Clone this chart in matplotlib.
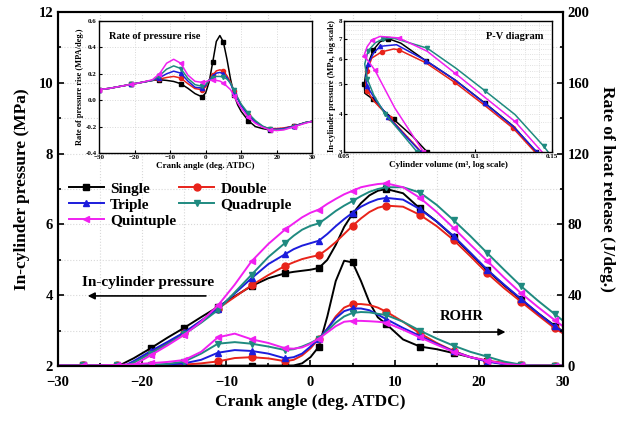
import numpy as np
import matplotlib
matplotlib.use('Agg')
import matplotlib.pyplot as plt
from matplotlib.ticker import MultipleLocator, FixedLocator, FixedFormatter, NullFormatter

plt.rcParams['font.family'] = ['Liberation Serif', 'DejaVu Serif']
plt.rcParams['font.weight'] = 'bold'
plt.rcParams['axes.labelweight'] = 'bold'

# ---------------- data ----------------
series_names = ['Single', 'Double', 'Triple', 'Quadruple', 'Quintuple']
colors = ['#000000', '#e8231a', '#1c1cdc', '#1f8a80', '#f020f0']
markers = ['s', 'o', '^', 'v', '<']

crank = [-30, -29, -27, -25, -23, -21, -19, -17, -15, -13, -11, -9, -7, -5, -3, -2, -1, 0,
         1, 2, 3, 4, 5, 6, 7, 8, 9, 11, 13, 15, 17, 19, 21, 23, 25, 27, 29, 30]
marker_angles = [-27, -23, -19, -15, -11, -7, -3, 1, 5, 9, 13, 17, 21, 25, 29]

p_single = [1.45, 1.5, 1.62, 1.78, 1.98, 2.22, 2.5, 2.8, 3.08, 3.38, 3.67, 3.97, 4.26, 4.48, 4.62, 4.66, 4.69, 4.72,
            4.77, 5.0, 5.42, 5.93, 6.3, 6.6, 6.82, 6.95, 7.0, 6.88, 6.45, 6.08, 5.65, 5.18, 4.7, 4.28, 3.88, 3.5, 3.14, 2.98]
p_double = [1.35, 1.4, 1.52, 1.68, 1.87, 2.1, 2.38, 2.65, 2.93, 3.27, 3.62, 3.95, 4.28, 4.57, 4.83, 4.93, 5.02, 5.08,
            5.13, 5.3, 5.5, 5.73, 5.96, 6.17, 6.35, 6.47, 6.53, 6.5, 6.27, 5.95, 5.56, 5.1, 4.62, 4.2, 3.82, 3.44, 3.07, 2.92]
p_triple = [1.38, 1.43, 1.55, 1.7, 1.9, 2.14, 2.42, 2.68, 2.95, 3.28, 3.62, 4.05, 4.48, 4.88, 5.16, 5.3, 5.4, 5.47,
            5.54, 5.73, 5.95, 6.15, 6.33, 6.5, 6.62, 6.71, 6.75, 6.7, 6.43, 6.08, 5.67, 5.2, 4.72, 4.3, 3.9, 3.5, 3.12, 2.96]
p_quadruple = [1.36, 1.41, 1.52, 1.68, 1.88, 2.1, 2.35, 2.62, 2.9, 3.22, 3.58, 4.08, 4.58, 5.08, 5.48, 5.68, 5.85, 5.96,
               6.03, 6.2, 6.38, 6.53, 6.66, 6.8, 6.92, 7.0, 7.05, 7.05, 6.9, 6.55, 6.12, 5.67, 5.19, 4.72, 4.26, 3.85, 3.47, 3.28]
p_quintuple = [1.33, 1.38, 1.48, 1.62, 1.8, 2.03, 2.3, 2.58, 2.88, 3.25, 3.71, 4.3, 4.96, 5.45, 5.86, 6.03, 6.2, 6.33,
               6.42, 6.58, 6.72, 6.85, 6.95, 7.05, 7.1, 7.14, 7.16, 7.05, 6.75, 6.35, 5.9, 5.43, 4.97, 4.5, 4.06, 3.67, 3.3, 3.12]

r_single = [0.3, 0.3, 0.3, 0.2, 0.2, 0.2, 0.2, 0.2, 0.2, 0.2, 0.2, 0.2, 0.2, 0.2, 0.2, 0.3, 1.5, 5.0,
            11.0, 28.0, 48.0, 59.5, 58.5, 48.0, 36.0, 27.5, 23.7, 15.0, 11.0, 9.5, 7.3, 5.0, 2.8, 1.2, 0.3, 0.2, 0.2, 0.2]
r_double = [0.3, 0.3, 0.3, 0.3, 0.3, 0.3, 0.4, 0.5, 0.8, 1.5, 2.6, 4.5, 5.0, 4.3, 2.7, 3.5, 6.0, 10.0,
            15.5, 21.0, 28.0, 33.0, 35.0, 35.0, 34.5, 33.0, 30.7, 25.0, 18.5, 13.0, 8.5, 5.0, 3.0, 1.8, 0.5, 0.3, 0.2, 0.2]
r_triple = [0.3, 0.3, 0.3, 0.3, 0.3, 0.3, 0.5, 0.8, 1.5, 3.5, 7.5, 9.0, 8.5, 7.0, 4.3, 5.0, 7.0, 11.0,
            15.5, 21.0, 27.0, 31.0, 32.5, 32.5, 31.5, 29.0, 26.5, 21.5, 17.0, 12.5, 8.3, 5.0, 2.5, 1.0, 0.3, 0.2, 0.2, 0.2]
r_quadruple = [0.3, 0.3, 0.3, 0.3, 0.3, 0.3, 0.6, 1.2, 2.5, 7.0, 12.6, 13.5, 12.6, 11.0, 9.0, 9.5, 11.0, 13.0,
               15.5, 20.0, 24.5, 28.0, 30.0, 30.5, 30.3, 29.5, 28.8, 25.0, 20.0, 15.5, 11.5, 8.0, 5.3, 2.5, 0.8, 0.3, 0.2, 0.2]
r_quintuple = [0.3, 0.3, 0.3, 0.4, 0.6, 1.0, 1.6, 2.3, 3.4, 8.0, 16.2, 18.3, 15.1, 13.0, 10.0, 9.8, 10.5, 12.5,
               15.5, 19.0, 22.5, 25.0, 25.5, 25.5, 25.3, 25.0, 24.5, 20.5, 16.2, 12.0, 8.0, 5.0, 3.0, 1.3, 0.4, 0.2, 0.2, 0.2]

# rate of pressure rise inset
rpr_angle = [-30, -27, -24, -21, -18, -15, -13, -11, -9, -7, -5, -3, -1, 0, 1, 2, 3, 4, 5, 6, 7, 8, 9, 10,
             12, 14, 16, 18, 20, 22, 25, 28, 30]
rpr_single = [0.08, 0.09, 0.105, 0.12, 0.135, 0.15, 0.155, 0.15, 0.142, 0.125, 0.09, 0.05, 0.025, 0.055, 0.14, 0.29,
              0.445, 0.49, 0.44, 0.31, 0.16, 0.04, -0.035, -0.085, -0.155, -0.2, -0.215, -0.225, -0.225, -0.215,
              -0.195, -0.17, -0.16]
rpr_double = [0.08, 0.09, 0.105, 0.12, 0.135, 0.15, 0.16, 0.172, 0.18, 0.168, 0.125, 0.088, 0.08, 0.1, 0.155, 0.19,
              0.222, 0.23, 0.222, 0.185, 0.135, 0.07, 0.015, -0.035, -0.11, -0.16, -0.2, -0.215, -0.215, -0.21,
              -0.195, -0.17, -0.16]
rpr_triple = [0.08, 0.09, 0.105, 0.12, 0.135, 0.15, 0.17, 0.2, 0.22, 0.205, 0.145, 0.098, 0.092, 0.11, 0.155, 0.18,
              0.205, 0.21, 0.2, 0.17, 0.125, 0.065, 0.01, -0.04, -0.115, -0.165, -0.2, -0.22, -0.22, -0.215,
              -0.195, -0.17, -0.16]
rpr_quadruple = [0.08, 0.09, 0.105, 0.12, 0.135, 0.15, 0.185, 0.235, 0.26, 0.24, 0.165, 0.118, 0.105, 0.12, 0.15,
                 0.168, 0.18, 0.18, 0.175, 0.16, 0.13, 0.075, 0.02, -0.03, -0.1, -0.155, -0.195, -0.22, -0.225,
                 -0.22, -0.2, -0.17, -0.16]
rpr_quintuple = [0.08, 0.09, 0.105, 0.12, 0.135, 0.155, 0.2, 0.28, 0.31, 0.28, 0.19, 0.143, 0.135, 0.14, 0.15, 0.152,
                 0.15, 0.145, 0.13, 0.105, 0.08, 0.03, -0.02, -0.06, -0.13, -0.175, -0.205, -0.225, -0.23, -0.225,
                 -0.2, -0.175, -0.16]

# P-V inset (volume m^3, pressure MPa)
pv_v_single = [0.0776, 0.0719, 0.065, 0.0615, 0.0582, 0.0558, 0.0557, 0.0563, 0.0584, 0.0605, 0.0632, 0.0675,
               0.0771, 0.0898, 0.1052, 0.1223, 0.138]
pv_p_single = [3.0, 3.37, 3.83, 4.1, 4.46, 4.66, 5.0, 5.62, 6.45, 6.85, 7.01, 6.78, 5.94, 5.15, 4.33, 3.64, 3.0]
pv_v_double = [0.0753, 0.07, 0.0637, 0.0585, 0.0565, 0.0561, 0.0565, 0.0579, 0.061, 0.065, 0.0668, 0.0771, 0.0898,
               0.1052, 0.1223, 0.1371]
pv_p_double = [3.0, 3.35, 3.87, 4.4, 4.75, 4.96, 5.5, 6.06, 6.35, 6.49, 6.45, 5.85, 5.05, 4.25, 3.58, 3.0]
pv_v_triple = [0.075, 0.069, 0.0632, 0.059, 0.0565, 0.0561, 0.0568, 0.0585, 0.0605, 0.066, 0.0771, 0.0898, 0.1052,
               0.1223, 0.1385]
pv_p_triple = [3.0, 3.4, 3.9, 4.45, 4.9, 5.25, 5.8, 6.3, 6.62, 6.7, 5.95, 5.15, 4.32, 3.63, 3.0]
pv_v_quadruple = [0.0736, 0.0672, 0.062, 0.0585, 0.0565, 0.0558, 0.0568, 0.059, 0.0615, 0.065, 0.0776, 0.0903,
                  0.1052, 0.1234, 0.1437, 0.147]
pv_p_quadruple = [3.0, 3.5, 4.0, 4.6, 5.2, 5.8, 6.4, 6.8, 7.0, 7.04, 6.53, 5.62, 4.75, 3.97, 3.13, 3.0]
pv_v_quintuple = [0.0761, 0.0654, 0.0589, 0.0565, 0.0555, 0.0565, 0.058, 0.0605, 0.0668, 0.0776, 0.0898, 0.1052,
                  0.1234, 0.1424]
pv_p_quintuple = [3.0, 4.17, 5.53, 6.0, 6.14, 6.6, 6.95, 7.13, 7.05, 6.38, 5.42, 4.52, 3.77, 3.0]

pressures = [p_single, p_double, p_triple, p_quadruple, p_quintuple]
rohrs = [r_single, r_double, r_triple, r_quadruple, r_quintuple]
rprs = [rpr_single, rpr_double, rpr_triple, rpr_quadruple, rpr_quintuple]
pv_vs = [pv_v_single, pv_v_double, pv_v_triple, pv_v_quadruple, pv_v_quintuple]
pv_ps = [pv_p_single, pv_p_double, pv_p_triple, pv_p_quadruple, pv_p_quintuple]

# ---------------- figure ----------------
fig = plt.figure(figsize=(6.27, 4.21), dpi=100)
ax = fig.add_axes([0.0925, 0.1306, 0.8054, 0.8409])
ax2 = ax.twinx()

mark_idx = [i for i, a in enumerate(crank) if a in marker_angles]
handles = []
for name, c, m, p, r in zip(series_names, colors, markers, pressures, rohrs):
    h, = ax.plot(crank, p, color=c, marker=m, markevery=mark_idx, markersize=5, lw=1.4, label=name)
    ax2.plot(crank, r, color=c, marker=m, markevery=mark_idx, markersize=5, lw=1.4)
    handles.append(h)

ax.set_xlim(-30, 30)
ax.set_ylim(2, 12)
ax2.set_ylim(0, 200)
ax.xaxis.set_major_locator(MultipleLocator(10))
ax.xaxis.set_minor_locator(MultipleLocator(5))
ax.yaxis.set_major_locator(MultipleLocator(2))
ax.yaxis.set_minor_locator(MultipleLocator(1))
ax2.yaxis.set_major_locator(MultipleLocator(40))
ax2.yaxis.set_minor_locator(MultipleLocator(20))
ax.grid(True, which='both', color='#d8d8d8', linestyle=':', linewidth=0.8)
ax.set_axisbelow(True)

for a in (ax, ax2):
    a.tick_params(which='both', direction='in', labelsize=10.5, width=1.2)
    a.tick_params(which='major', length=4)
    a.tick_params(which='minor', length=2.5)
    for s in a.spines.values():
        s.set_linewidth(1.5)
ax.tick_params(axis='x', which='major', pad=7)
ax.tick_params(top=False, which='both')
for lab in ax.get_xticklabels() + ax.get_yticklabels() + ax2.get_yticklabels():
    lab.set_fontweight('bold')

ax.set_xlabel('Crank angle (deg. ATDC)', fontsize=12.5, fontweight='bold', labelpad=4)
ax.set_ylabel('In-cylinder pressure (MPa)', fontsize=12.5, fontweight='bold', labelpad=6)
ax2.set_ylabel('Rate of heat release (J/deg.)', fontsize=12.5, fontweight='bold', rotation=270, labelpad=18)

order = [0, 2, 4, 1, 3]
leg = ax.legend([handles[i] for i in order], [series_names[i] for i in order], ncol=2,
                loc='upper left', bbox_to_anchor=(0.0, 0.55), frameon=False,
                prop={'family': 'Liberation Serif', 'weight': 'bold', 'size': 11},
                handlelength=2.3, handletextpad=0.4, columnspacing=0.2, labelspacing=0.15,
                borderaxespad=0.3)

ax.annotate('', xy=(-26.8, 3.98), xytext=(-12.1, 3.98),
            arrowprops=dict(arrowstyle='-|>', color='black', lw=1.2, mutation_scale=10))
ax.text(-19.3, 4.37, 'In-cylinder pressure', ha='center', va='center', fontsize=11, fontweight='bold')
ax.annotate('', xy=(23.5, 2.96), xytext=(14.3, 2.96),
            arrowprops=dict(arrowstyle='-|>', color='black', lw=1.2, mutation_scale=10))
ax.text(18.0, 3.41, 'ROHR', ha='center', va='center', fontsize=10.5, fontweight='bold')

# ---------------- inset 1: rate of pressure rise ----------------
ins1 = fig.add_axes([0.158, 0.6366, 0.340, 0.3135])
ins1.set_zorder(5)
ins1.set_facecolor('white')
for name, c, m, y in zip(series_names, colors, markers, rprs):
    ins1.plot(rpr_angle, y, color=c, marker=m, markevery=3, markersize=3, lw=1.1)
ins1.set_xlim(-30, 30)
ins1.set_ylim(-0.4, 0.6)
ins1.xaxis.set_major_locator(MultipleLocator(10))
ins1.yaxis.set_major_locator(MultipleLocator(0.2))
ins1.yaxis.set_major_formatter(matplotlib.ticker.FormatStrFormatter('%.1f'))
ins1.grid(True, color='#d8d8d8', linestyle=':', linewidth=0.7)
ins1.tick_params(direction='in', labelsize=5, length=2.5, width=0.8, pad=1.5)
for s in ins1.spines.values():
    s.set_linewidth(1.0)
ins1.set_xlabel('Crank angle (deg. ATDC)', fontsize=6.5, fontweight='bold', labelpad=1.5)
ins1.set_ylabel('Rate of pressure rise (MPA/deg.)', fontsize=6, fontweight='bold', labelpad=1.5)
ins1.text(0.045, 0.88, 'Rate of pressure rise', transform=ins1.transAxes, fontsize=7.5,
          fontweight='bold', ha='left', va='center')

# ---------------- inset 2: P-V diagram ----------------
ins2 = fig.add_axes([0.5486, 0.639, 0.3317, 0.311])
ins2.set_zorder(5)
ins2.set_facecolor('white')
for name, c, m, v, p in zip(series_names, colors, markers, pv_vs, pv_ps):
    ins2.plot(v, p, color=c, marker=m, markevery=2, markersize=3, lw=1.1)
ins2.set_xscale('log')
ins2.set_yscale('log')
ins2.set_xlim(0.05, 0.15)
ins2.set_ylim(3, 8)
ins2.xaxis.set_major_locator(FixedLocator([0.05, 0.1, 0.15]))
ins2.xaxis.set_major_formatter(FixedFormatter(['0.05', '0.1', '0.15']))
ins2.xaxis.set_minor_locator(FixedLocator([0.055, 0.06, 0.065, 0.07, 0.075, 0.08, 0.085, 0.09, 0.095,
                                           0.11, 0.12, 0.13, 0.14]))
ins2.xaxis.set_minor_formatter(NullFormatter())
ins2.yaxis.set_major_locator(FixedLocator([3, 4, 5, 6, 7, 8]))
ins2.yaxis.set_major_formatter(FixedFormatter(['3', '4', '5', '6', '7', '8']))
ins2.yaxis.set_minor_locator(FixedLocator([3.25, 3.5, 3.75, 4.25, 4.5, 4.75, 5.25, 5.5, 5.75, 6.25, 6.5,
                                           6.75, 7.25, 7.5, 7.75]))
ins2.yaxis.set_minor_formatter(NullFormatter())
ins2.grid(True, which='both', color='#d8d8d8', linestyle=':', linewidth=0.6)
ins2.tick_params(which='both', direction='in', labelsize=5, width=0.8, pad=1.5)
ins2.tick_params(which='major', length=2.5)
ins2.tick_params(which='minor', length=0)
for s in ins2.spines.values():
    s.set_linewidth(1.0)
ins2.set_xlabel('Cylinder volume (m³, log scale)', fontsize=6.5, fontweight='bold', labelpad=1.5)
ins2.set_ylabel('In-cylinder pressure (MPa, log scale)', fontsize=6, fontweight='bold', labelpad=1.5)
ins2.text(0.96, 0.88, 'P-V diagram', transform=ins2.transAxes, fontsize=7.5,
          fontweight='bold', ha='right', va='center')

fig.savefig('out.png', dpi=100)
